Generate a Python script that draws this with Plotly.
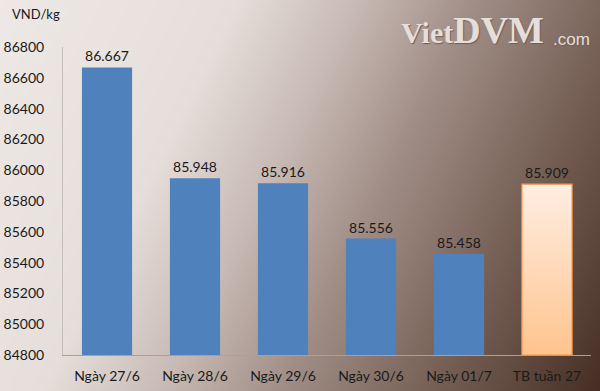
import zlib, struct, base64
import plotly.graph_objects as go

categories = ["Ngày 27/6", "Ngày 28/6", "Ngày 29/6", "Ngày 30/6", "Ngày 01/7", "TB tuần 27"]
prices = [86667, 85948, 85916, 85556, 85458, 85909]
y_ticks = [84800, 85000, 85200, 85400, 85600, 85800, 86000, 86200, 86400, 86600, 86800]

W, H = 600, 391
ML, MR, MT, MB = 63, 9, 47, 36
PW, PH = W - ML - MR, H - MT - MB
BAR_W = 0.57
AXIS_MIN = 84800


def lerp_stops(t, stops):
    if t <= stops[0][0]:
        return stops[0][1]
    for (t0, c0), (t1, c1) in zip(stops, stops[1:]):
        if t <= t1:
            f = (t - t0) / (t1 - t0)
            return tuple(int(round(a + (b - a) * f)) for a, b in zip(c0, c1))
    return stops[-1][1]


def make_png(w, h, color_fn):
    raw = bytearray()
    for j in range(h):
        raw.append(0)
        for i in range(w):
            raw.extend(color_fn(i, j))
    def chunk(tag, data):
        c = struct.pack(">I", len(data)) + tag + data
        return c + struct.pack(">I", zlib.crc32(tag + data) & 0xffffffff)
    png = b"\x89PNG\r\n\x1a\n"
    png += chunk(b"IHDR", struct.pack(">IIBBBBB", w, h, 8, 2, 0, 0, 0))
    png += chunk(b"IDAT", zlib.compress(bytes(raw), 9))
    png += chunk(b"IEND", b"")
    return "data:image/png;base64," + base64.b64encode(png).decode()


bg_stops = [
    (0.0, (238, 233, 230)),
    (0.30, (230, 222, 218)),
    (0.45, (200, 186, 180)),
    (0.60, (160, 142, 134)),
    (0.78, (120, 98, 88)),
    (1.0, (70, 46, 36)),
]
GW, GH = 150, 98


def bg_color(i, j):
    px = (i + 0.5) / GW * W
    py = (j + 0.5) / GH * H
    s = (px + 0.5 * py) / (W + 0.5 * H)
    return lerp_stops(s, bg_stops)


bg_src = make_png(GW, GH, bg_color)

bar_stops = [(0.0, (255, 238, 226)), (1.0, (255, 196, 142))]
bar_src = make_png(4, 64, lambda i, j: lerp_stops((j + 0.5) / 64, bar_stops))

blue = "#4F81BD"
colors = [blue] * (len(categories) - 1) + ["rgba(0,0,0,0)"]
line_colors = [blue] * (len(categories) - 1) + ["#F79646"]

fig = go.Figure()
fig.add_trace(go.Bar(
    x=categories,
    y=[p - AXIS_MIN for p in prices],
    base=AXIS_MIN,
    width=BAR_W,
    marker=dict(color=colors, line=dict(color=line_colors, width=[0] * 5 + [1.2])),
    text=[f"{p:,}".replace(",", ".") for p in prices],
    textposition="outside",
    textfont=dict(family="Lato, Liberation Sans, sans-serif", size=14, color="#1a1a1a"),
    cliponaxis=False,
    hoverinfo="skip",
))

images = [
    dict(source=bg_src, xref="paper", yref="paper",
         x=-ML / PW, y=1 + MT / PH, sizex=W / PW, sizey=H / PH,
         sizing="stretch", xanchor="left", yanchor="top", layer="below"),
    dict(source=bar_src, xref="x", yref="y",
         x=len(categories) - 1, y=prices[-1], sizex=BAR_W, sizey=prices[-1] - AXIS_MIN,
         sizing="stretch", xanchor="center", yanchor="top", layer="below"),
]

fig.update_layout(
    width=W, height=H,
    margin=dict(l=ML, r=MR, t=MT, b=MB, pad=0, autoexpand=False),
    paper_bgcolor="rgba(0,0,0,0)",
    plot_bgcolor="rgba(0,0,0,0)",
    showlegend=False,
    images=images,
    font=dict(family="Lato, Liberation Sans, sans-serif", size=14, color="#1a1a1a"),
    xaxis=dict(
        automargin=False,
        showgrid=False, zeroline=False, showline=True, linecolor="#A8A09C", linewidth=1,
        ticks="", ticklabelstandoff=8,
        tickfont=dict(size=14, color="#1a1a1a"),
    ),
    yaxis=dict(
        automargin=False,
        range=[AXIS_MIN, 86800], tickvals=y_ticks, ticktext=[str(v) for v in y_ticks],
        showgrid=False, zeroline=False, showline=True, linecolor="#C4BEBB", linewidth=1,
        ticks="", ticklabelstandoff=15,
        tickfont=dict(size=14, color="#1a1a1a"),
    ),
    annotations=[
        dict(text="VND/kg", xref="paper", yref="paper",
             x=(10 - ML) / PW, y=(H - MB - 14) / PH, xanchor="left", yanchor="middle",
             showarrow=False, font=dict(size=13, color="#1a1a1a")),
        dict(text="Viet<span style='font-size:38px'>DVM</span>",
             xref="paper", yref="paper",
             x=(399 - ML) / PW, y=(H - MB - 30) / PH, xanchor="left", yanchor="middle",
             showarrow=False,
             font=dict(family="Liberation Serif, DejaVu Serif, serif", size=30, weight="bold",
                       color="#E6DEDA", shadow="1px 1px 1px #6f5f58")),
        dict(text=".com", xref="paper", yref="paper",
             x=(551 - ML) / PW, y=(H - MB - 39) / PH, xanchor="left", yanchor="middle",
             showarrow=False,
             font=dict(family="Liberation Sans, sans-serif", size=17,
                       color="#E6DEDA", shadow="1px 1px 1px #6f5f58")),
    ],
)

fig.write_html("out.html",
               config={"displayModeBar": False, "staticPlot": True},
               post_script="document.body.style.margin='0';document.body.style.overflow='hidden';")
